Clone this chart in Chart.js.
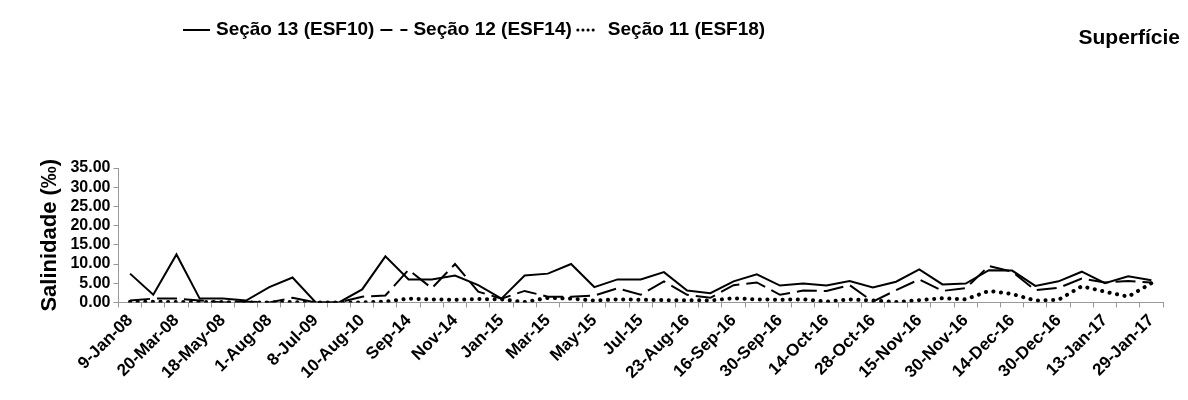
<!DOCTYPE html>
<html>
<head>
<meta charset="utf-8">
<script src="https://cdn.jsdelivr.net/npm/chart.js@4"></script>
<style>
  body { margin: 0; background: #fff; }
  #wrap { width: 1188px; height: 400px; }
</style>
</head>
<body>
<div id="wrap"><canvas id="ChartSalinidade"></canvas></div>
<script>
const categories = ['9-Jan-08','24-Feb-08','20-Mar-08','17-Apr-08','18-May-08','19-Jun-08','1-Aug-08','27-Sep-08',
  '8-Jul-09','15-Jan-10','10-Aug-10','Aug-14','Sep-14','Oct-14','Nov-14','Dec-14','Jan-15','Feb-15','Mar-15',
  'Apr-15','May-15','Jun-15','Jul-15','Aug-15','23-Aug-16','9-Sep-16','16-Sep-16','23-Sep-16','30-Sep-16',
  '7-Oct-16','14-Oct-16','21-Oct-16','28-Oct-16','7-Nov-16','15-Nov-16','22-Nov-16','30-Nov-16','7-Dec-16',
  '14-Dec-16','22-Dec-16','30-Dec-16','6-Jan-17','13-Jan-17','21-Jan-17','29-Jan-17'];

const secao13 = [7.5,2,12.5,1,1,0.5,4,6.5,0,0,3.4,12,6,6,7,4.5,1,7,7.5,
  10,4,6,6,7.9,3.1,2.4,5.5,7.3,4.4,4.9,4.4,5.6,3.9,5.4,8.6,4.7,4.9,8.4,
  8.3,4.3,5.5,8,5,6.8,5.8];
const secao12 = [0.5,1,1,0.5,0,0.2,0,1.2,0,0,1.5,1.8,8.5,3.7,10,2.8,1,3,1.5,
  1.5,1.8,3.7,2,5.5,2,1.2,4.5,5.2,2,3.1,3,4.5,0.2,3.2,6,3,3.7,9.5,
  8,3.2,3.8,6.2,5.2,5.6,5.2];
const secao11 = [0.2,0.2,0.1,0.1,0.1,0,0,0.1,0,0,0,0.2,1,0.8,0.7,0.9,0.8,0.1,1.2,
  1,0.5,0.8,0.7,0.6,0.6,0.5,1.1,0.8,0.7,0.8,0.2,0.8,0.5,0.1,0.6,1.1,0.8,3,
  2.2,0.5,0.7,4.2,2.8,1.5,5];

const yTicks = [0,5,10,15,20,25,30,35];

const FONT = "'Liberation Sans', sans-serif";

// legend and corner title drawn by hand so the dash patterns show
const headerText = {
  id: 'headerText',
  afterDraw(chart) {
    const c = chart.ctx;
    c.save();
    c.fillStyle = '#000';
    c.strokeStyle = '#000';
    c.textBaseline = 'middle';
    c.font = 'bold 19px ' + FONT;
    let x = 183;
    const y = 30;
    const dashes = [[], [12, 8], [0.1, 5]];
    chart.data.datasets.forEach((d, i) => {
      c.lineWidth = i === 2 ? 3 : 2;
      c.lineCap = d.borderCapStyle || 'butt';
      c.setLineDash(dashes[i]);
      c.beginPath();
      c.moveTo(x, y);
      c.lineTo(x + (i === 2 ? 20 : 27), y);
      c.stroke();
      c.setLineDash([]);
      x += i === 2 ? 30 : 33;
      c.textAlign = 'left';
      c.fillText(d.label, x, y);
      x += c.measureText(d.label).width + 6;
    });
    c.font = 'bold 21px ' + FONT;
    c.textAlign = 'right';
    c.fillText('Superfície', 1180, 38);
    c.restore();
  }
};

function ds(label, data, dash, width, cap) {
  return {
    label: label, data: data,
    borderColor: '#000', backgroundColor: '#000',
    borderWidth: width, borderDash: dash, borderCapStyle: cap,
    pointRadius: 0, tension: 0, fill: false
  };
}

new Chart(document.getElementById('ChartSalinidade'), {
  type: 'line',
  data: {
    labels: categories,
    datasets: [
      ds('Seção 13 (ESF10)', secao13, [], 2, 'butt'),
      ds('Seção 12 (ESF14)', secao12, [20, 7], 2, 'butt'),
      ds('Seção 11 (ESF18)', secao11, [0.1, 7.5], 4, 'round')
    ]
  },
  options: {
    responsive: true,
    maintainAspectRatio: false,
    animation: false,
    layout: { padding: { left: 33, right: 25, top: 168, bottom: 14 } },
    plugins: {
      legend: { display: false },
      tooltip: { enabled: false }
    },
    scales: {
      x: {
        offset: true,
        grid: { display: true, drawOnChartArea: false, offset: true, color: '#999', tickLength: 5 },
        border: { color: '#999' },
        ticks: {
          autoSkip: false, maxRotation: 45, minRotation: 45,
          color: '#000', font: { family: FONT, size: 17, weight: 'bold' },
          callback: function(v, i) { return i % 2 === 0 ? categories[i] : ''; }
        }
      },
      y: {
        min: 0, max: 35,
        afterBuildTicks: function(axis) { axis.ticks = yTicks.map(v => ({ value: v })); },
        grid: { display: true, drawOnChartArea: false, color: '#999', tickLength: 5 },
        border: { color: '#999' },
        ticks: {
          autoSkip: false,
          color: '#000', font: { family: FONT, size: 16, weight: 'bold' },
          callback: v => v.toFixed(2)
        },
        title: {
          display: true, text: 'Salinidade (‰)', color: '#000',
          font: { family: FONT, size: 22, weight: 'bold' }
        }
      }
    }
  },
  plugins: [headerText]
});
</script>
</body>
</html>
